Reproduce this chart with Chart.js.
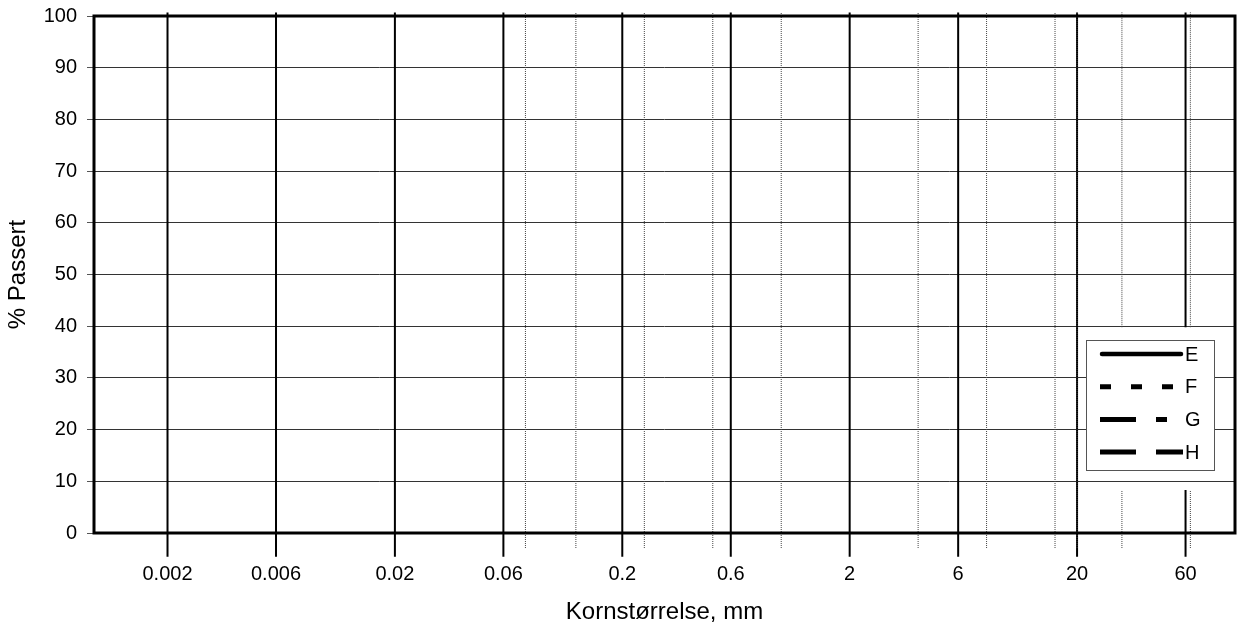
<!DOCTYPE html>
<html>
<head>
<meta charset="utf-8">
<title>Kornfordeling</title>
<script src="https://cdn.jsdelivr.net/npm/chart.js@4.4.0/dist/chart.umd.min.js"></script>
<style>
  body { margin: 0; background: #fff; }
  #chart { display: block; }
</style>
</head>
<body>
<canvas id="chart" width="1244" height="629"></canvas>
<script>
// Kornfordelingskurve - tomt skjema med siktelinjer

const xTicks = [0.002, 0.006, 0.02, 0.06, 0.2, 0.6, 2, 6, 20, 60];
const xTickLabels = ['0.002', '0.006', '0.02', '0.06', '0.2', '0.6', '2', '6', '20', '60'];
const sieveSizes = [0.075, 0.125, 0.25, 0.5, 1, 4, 8, 16, 20, 31.5, 63];
const yTicks = [0, 10, 20, 30, 40, 50, 60, 70, 80, 90, 100];

const seriesLabels = ['E', 'F', 'G', 'H'];
const seriesE = [];
const seriesF = [];
const seriesG = [];
const seriesH = [];

// lines to the right of 20 mm are broken behind the legend
const legendGap = [8.3, 39.8];

Chart.defaults.font.family = "'Liberation Sans', Arial, sans-serif";

function verticalLine(x, bottom, top) {
    if (x > 25) {
        return [{x: x, y: bottom}, {x: x, y: legendGap[0]}, {x: x, y: null},
                {x: x, y: legendGap[1]}, {x: x, y: top}];
    }
    return [{x: x, y: bottom}, {x: x, y: top}];
}

const lineDatasets = [];
sieveSizes.forEach(function(v) {
    lineDatasets.push({
        data: verticalLine(v, -2.9, 100.7),
        borderColor: '#444',
        borderWidth: 1,
        borderDash: [1, 1],
        showLine: true,
        pointRadius: 0,
        clip: false
    });
});
xTicks.forEach(function(v) {
    lineDatasets.push({
        data: verticalLine(v, -4.6, 100.7),
        borderColor: '#000',
        borderWidth: 2,
        showLine: true,
        pointRadius: 0,
        clip: false
    });
});

const seriesData = [seriesE, seriesF, seriesG, seriesH];
const seriesDash = [[], [11, 20], [36, 20, 11, 20], [36, 20]];
const seriesDatasets = seriesLabels.map(function(label, i) {
    return {
        label: label,
        data: seriesData[i],
        borderColor: '#000',
        borderWidth: i === 0 ? 4.5 : 5,
        borderDash: seriesDash[i],
        borderCapStyle: i === 0 ? 'round' : 'butt',
        showLine: true,
        pointRadius: 0,
        inLegend: true
    };
});

const frame = {
    id: 'frame',
    afterDatasetsDraw(chart) {
        const {ctx, chartArea} = chart;
        ctx.save();
        ctx.strokeStyle = '#000';
        ctx.lineWidth = 3;
        ctx.strokeRect(chartArea.left, chartArea.top,
                       chartArea.right - chartArea.left, chartArea.bottom - chartArea.top);
        ctx.restore();
    }
};

const legendBox = {
    id: 'legendBox',
    afterDraw(chart) {
        const {ctx, chartArea} = chart;
        const items = chart.data.datasets.filter(d => d.inLegend);
        const left = Math.round(chartArea.right - 149);
        const top = Math.round(chartArea.bottom - 193);
        const w = 128, h = 130, rowH = 32.7;
        ctx.save();
        ctx.fillStyle = '#fff';
        ctx.fillRect(left, top, w, h);
        ctx.strokeStyle = '#555';
        ctx.lineWidth = 1;
        ctx.strokeRect(left + 0.5, top + 0.5, w, h);
        items.forEach(function(ds, i) {
            const y = top + 14 + i * rowH;
            ctx.beginPath();
            ctx.setLineDash(ds.borderDash);
            ctx.lineWidth = ds.borderWidth;
            ctx.lineCap = ds.borderCapStyle;
            ctx.strokeStyle = ds.borderColor;
            const x0 = ds.borderCapStyle === 'round' ? left + 16 : left + 14;
            const x1 = ds.borderCapStyle === 'round' ? left + 95 : left + 97;
            ctx.moveTo(x0, y);
            ctx.lineTo(x1, y);
            ctx.stroke();
            ctx.setLineDash([]);
            ctx.fillStyle = '#000';
            ctx.font = "20px 'Liberation Sans', Arial, sans-serif";
            ctx.textBaseline = 'middle';
            ctx.fillText(ds.label, left + 99, y + 1);
        });
        ctx.restore();
    }
};

new Chart(document.getElementById('chart'), {
    type: 'scatter',
    data: {
        datasets: lineDatasets.concat(seriesDatasets)
    },
    options: {
        responsive: false,
        animation: false,
        layout: {
            padding: {top: 16, right: 9, left: 0, bottom: 0}
        },
        plugins: {
            legend: {display: false},
            tooltip: {enabled: false}
        },
        scales: {
            x: {
                type: 'logarithmic',
                min: 0.00095,
                max: 99,
                afterBuildTicks: function(scale) {
                    scale.ticks = xTicks.map(v => ({value: v}));
                },
                afterFit: function(scale) {
                    scale.height = 96;
                    scale.paddingLeft = 0;
                    scale.paddingRight = 0;
                },
                grid: {display: false, drawTicks: false},
                border: {display: false},
                ticks: {
                    autoSkip: false,
                    maxRotation: 0,
                    padding: 29,
                    color: '#000',
                    font: {size: 20},
                    callback: function(value, index) {
                        return xTickLabels[index];
                    }
                },
                title: {
                    display: true,
                    text: 'Kornstørrelse, mm',
                    color: '#000',
                    font: {size: 24},
                    padding: {top: 0, bottom: 2}
                }
            },
            y: {
                min: 0,
                max: 100,
                afterBuildTicks: function(scale) {
                    scale.ticks = yTicks.map(v => ({value: v}));
                },
                afterFit: function(scale) {
                    scale.width = 94;
                    scale.paddingTop = 0;
                    scale.paddingBottom = 0;
                },
                grid: {color: '#333', lineWidth: 1, tickLength: 7, tickColor: '#555'},
                border: {display: false},
                ticks: {
                    padding: 10,
                    color: '#000',
                    font: {size: 20}
                },
                title: {
                    display: true,
                    text: '% Passert',
                    color: '#000',
                    font: {size: 24},
                    padding: {top: 4, bottom: 0}
                }
            }
        }
    },
    plugins: [frame, legendBox]
});
</script>
</body>
</html>
